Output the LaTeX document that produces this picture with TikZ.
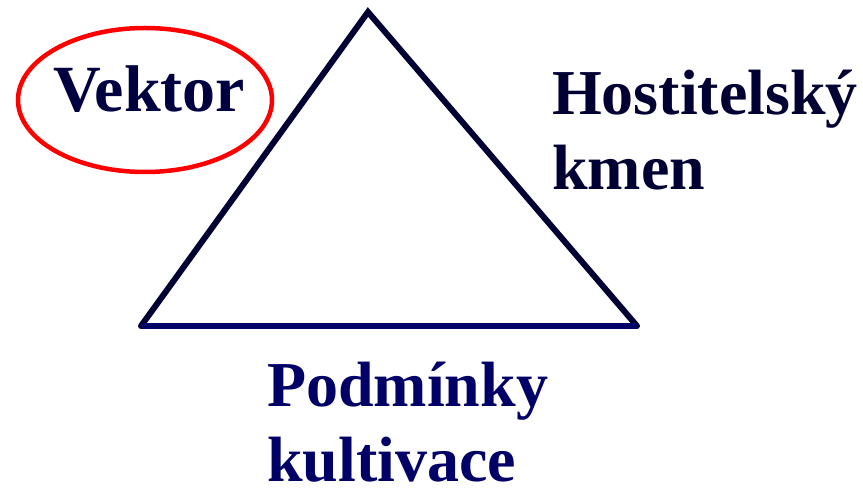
\documentclass[tikz,border=0pt]{standalone}
\usepackage{fontspec}
\setmainfont{Liberation Serif}
\usetikzlibrary{shapes.geometric}
\definecolor{darknavy}{HTML}{000033}
\definecolor{navy}{HTML}{000066}
\definecolor{textnavy}{HTML}{000040}

\begin{document}
\begin{tikzpicture}
    [x=1pt,y=-1pt,
     word/.style={align=left,inner sep=0pt,font=\fontsize{64}{75}\selectfont\bfseries},
     side/.style={line width=6pt,darknavy,line cap=round}]

    \useasboundingbox (0,0) rectangle (863,494);

    \coordinate (top) at (368,12);
    \coordinate (left) at (141,326);
    \coordinate (right) at (637,326);

    \draw[side] (left) -- (top) -- (right);
    \draw[line width=6pt,navy] (left) -- (right);

    \node[draw=red,line width=4.5pt,ellipse,minimum width=254pt,minimum height=144pt,inner sep=0pt] (vekell) at (145,100) {};
    \node[word,textnavy,anchor=base,font=\fontsize{66}{75}\selectfont\bfseries] (vektor) at (149,112) {Vektor};

    \node[word,darknavy,anchor=base west] (host) at (552,190) {Hostitelský\\kmen};
    \node[word,navy,anchor=base west] (podm) at (267,482) {Podmínky\\kultivace};

\end{tikzpicture}
\end{document}
